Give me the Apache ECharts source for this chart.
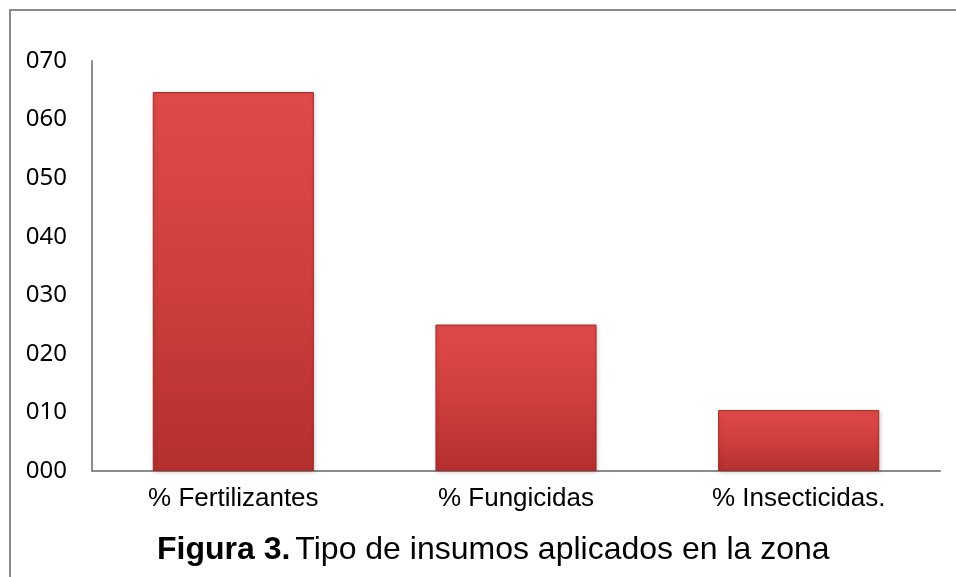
<!DOCTYPE html>
<html>
<head>
<meta charset="utf-8">
<script src="https://cdn.jsdelivr.net/npm/echarts@6/dist/echarts.min.js"></script>
<style>
html, body { margin: 0; padding: 0; background: #fff; }
#chart { width: 956px; height: 577px; }
</style>
</head>
<body>
<div id="chart"></div>
<script>
// data
const categories = ['% Fertilizantes', '% Fungicidas', '% Insecticidas.'];
const values = [64.7, 25.0, 10.4];
const yTicks = { min: 0, max: 70, interval: 10 };

const chart = echarts.init(document.getElementById('chart'));

const barColor = new echarts.graphic.LinearGradient(0, 0, 0, 1, [
    { offset: 0, color: '#e04a48' },
    { offset: 0.5, color: '#cf3f3d' },
    { offset: 1, color: '#b3302e' }
]);

const option = {
    backgroundColor: '#fff',
    animation: false,
    grid: {
        left: 92,
        right: 16,
        top: 61,
        bottom: 106
    },
    xAxis: {
        type: 'category',
        data: categories,
        axisLine: { lineStyle: { color: '#8c8c8c', width: 2 } },
        axisTick: { show: false },
        axisLabel: {
            color: '#000',
            fontFamily: 'Liberation Sans, Arial',
            fontSize: 26,
            margin: 15
        }
    },
    yAxis: {
        type: 'value',
        min: yTicks.min,
        max: yTicks.max,
        interval: yTicks.interval,
        splitLine: { show: false },
        axisTick: { show: false },
        axisLine: { show: true, lineStyle: { color: '#8c8c8c', width: 2 } },
        axisLabel: {
            color: '#000',
            fontFamily: 'Noto Sans',
            fontSize: 24,
            margin: 25,
            formatter: v => String(v).padStart(3, '0')
        }
    },
    series: [{
        type: 'bar',
        data: values,
        barWidth: '57%',
        itemStyle: {
            color: barColor,
            borderColor: '#a52a28',
            borderWidth: 1,
            shadowColor: 'rgba(0,0,0,0.18)',
            shadowBlur: 4,
            shadowOffsetX: 1,
            shadowOffsetY: 1
        }
    }],
    title: {
        left: 152,
        top: 529,
        text: '{b|Figura 3.} {n|Tipo de insumos aplicados en la zona}',
        textStyle: {
            rich: {
                b: { fontFamily: 'Liberation Sans, Arial', fontSize: 32, fontWeight: 'bold', color: '#000' },
                n: { fontFamily: 'Liberation Sans, Arial', fontSize: 32, fontWeight: 'normal', color: '#000' }
            }
        }
    },
    graphic: [{
        type: 'rect',
        shape: { x: 10, y: 10, width: 960, height: 600 },
        style: { fill: 'none', stroke: '#8a8a8a', lineWidth: 2 },
        silent: true
    }]
};

chart.setOption(option);
</script>
</body>
</html>
